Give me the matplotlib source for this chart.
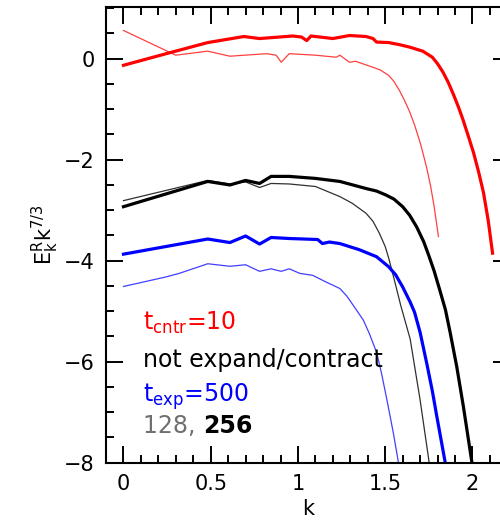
import numpy as np
import matplotlib
matplotlib.use('Agg')
import matplotlib.pyplot as plt
from matplotlib.ticker import MultipleLocator

plt.rcParams['font.family'] = 'DejaVu Sans'
plt.rcParams['mathtext.default'] = 'regular'
plt.rcParams['font.size'] = 15

# t_cntr = 10, 256 (thick red)
k_cntr_256 = [0, 0.245, 0.483, 0.69, 0.78, 0.97, 1.02, 1.05, 1.075, 1.2, 1.295, 1.39, 1.43,
              1.45, 1.52, 1.58, 1.64, 1.715, 1.77, 1.80, 1.83, 1.86, 1.89, 1.92, 1.945,
              1.975, 2.006, 2.035, 2.063, 2.09, 2.115]
e_cntr_256 = [-0.13, 0.10, 0.32, 0.44, 0.40, 0.45, 0.43, 0.36, 0.45, 0.40, 0.46, 0.44, 0.40,
              0.33, 0.32, 0.28, 0.23, 0.15, 0.03, -0.10, -0.26, -0.46, -0.70, -0.96, -1.20,
              -1.52, -1.86, -2.24, -2.65, -3.20, -3.85]
# t_cntr = 10, 128 (thin red)
k_cntr_128 = [0, 0.30, 0.483, 0.61, 0.82, 0.875, 0.904, 0.95, 1.10, 1.22, 1.24, 1.295, 1.33,
              1.43, 1.47, 1.52, 1.55, 1.58, 1.61, 1.64, 1.67, 1.70, 1.72, 1.739, 1.76, 1.78,
              1.805]
e_cntr_128 = [0.56, 0.07, 0.15, 0.05, 0.10, 0.07, -0.07, 0.10, 0.07, 0.03, 0.07, -0.07, -0.05,
              -0.17, -0.22, -0.33, -0.45, -0.62, -0.82, -1.05, -1.33, -1.66, -1.92, -2.18,
              -2.52, -2.92, -3.52]
# not expand/contract, 256 (thick black)
k_none_256 = [0, 0.483, 0.61, 0.70, 0.78, 0.846, 0.95, 1.10, 1.24, 1.39, 1.45, 1.505, 1.55,
              1.60, 1.64, 1.68, 1.72, 1.75, 1.78, 1.81, 1.845, 1.872, 1.91, 1.948, 1.997]
e_none_256 = [-2.93, -2.43, -2.50, -2.41, -2.47, -2.33, -2.33, -2.37, -2.43, -2.57, -2.62, -2.70,
              -2.78, -2.93, -3.10, -3.33, -3.62, -3.90, -4.20, -4.55, -4.97, -5.42, -6.10,
              -6.89, -8.0]
# not expand/contract, 128 (thin black)
k_none_128 = [0, 0.483, 0.61, 0.70, 0.78, 0.846, 0.95, 1.10, 1.24, 1.31, 1.39, 1.43, 1.467,
              1.50, 1.52, 1.55, 1.59, 1.643, 1.70, 1.752]
e_none_128 = [-2.81, -2.41, -2.48, -2.44, -2.55, -2.47, -2.48, -2.53, -2.73, -2.86, -3.06, -3.22,
              -3.46, -3.72, -3.95, -4.35, -4.90, -5.55, -6.76, -8.0]
# t_exp = 500, 256 (thick blue)
k_exp_256 = [0, 0.483, 0.61, 0.70, 0.78, 0.846, 0.95, 1.113, 1.14, 1.18, 1.24, 1.35, 1.45,
             1.52, 1.56, 1.60, 1.643, 1.668, 1.70, 1.739, 1.77, 1.796, 1.844]
e_exp_256 = [-3.87, -3.57, -3.64, -3.51, -3.67, -3.54, -3.56, -3.58, -3.66, -3.63, -3.66, -3.78,
             -3.92, -4.12, -4.28, -4.52, -4.82, -5.02, -5.42, -6.05, -6.58, -7.09, -8.0]
# t_exp = 500, 128 (thin blue)
k_exp_128 = [0, 0.245, 0.32, 0.483, 0.61, 0.70, 0.78, 0.846, 0.904, 0.95, 1.01, 1.085, 1.16,
             1.24, 1.28, 1.31, 1.34, 1.375, 1.41, 1.452, 1.48, 1.51, 1.547, 1.576]
e_exp_128 = [-4.51, -4.32, -4.25, -4.06, -4.11, -4.08, -4.21, -4.16, -4.21, -4.16, -4.25, -4.29,
             -4.42, -4.55, -4.70, -4.85, -5.00, -5.18, -5.45, -5.83, -6.25, -6.76, -7.42, -8.0]

fig = plt.figure(figsize=(5, 5.29), dpi=100)
ax = fig.add_axes([0.212, 0.1253, 0.808, 0.862])

thick = 2.3
thin = 0.9
ax.plot(k_cntr_128, e_cntr_128, color='#ff4040', lw=thin)
ax.plot(k_cntr_256, e_cntr_256, color='#ff0000', lw=thick)
ax.plot(k_none_128, e_none_128, color='#303030', lw=thin)
ax.plot(k_none_256, e_none_256, color='black', lw=thick)
ax.plot(k_exp_128, e_exp_128, color='#4040ff', lw=thin)
ax.plot(k_exp_256, e_exp_256, color='#0000ff', lw=thick)

ax.set_xlim(-0.1, 2.215)
ax.set_ylim(-8, 1.03)
ax.set_xticks([0, 0.5, 1, 1.5, 2])
ax.set_xticklabels(['0', '0.5', '1', '1.5', '2'])
ax.set_yticks([-8, -6, -4, -2, 0])
ax.xaxis.set_minor_locator(MultipleLocator(0.1))
ax.yaxis.set_minor_locator(MultipleLocator(0.5))
ax.tick_params(which='both', direction='in', top=True, right=True, width=1.4)
ax.tick_params(which='major', length=12, pad=8)
ax.tick_params(which='minor', length=6)
for s in ax.spines.values():
    s.set_linewidth(1.5)

ax.set_xlabel('k', labelpad=4)
ax.set_ylabel(r'$E^R_k k^{7/3}$', labelpad=2)

fs = 17
ax.text(0.113, -5.37, r'$t_{cntr}$=10', color='red', fontsize=fs)
ax.text(0.113, -6.11, 'not expand/contract', color='black', fontsize=fs)
ax.text(0.113, -6.80, r'$t_{exp}$=500', color='blue', fontsize=fs)
t = ax.text(0.113, -7.41, '128, ', color='#707070', fontsize=fs)
fig.canvas.draw()
bb = t.get_window_extent()
x1 = ax.transData.inverted().transform((bb.x1, bb.y0))[0]
ax.text(x1, -7.41, '256', color='black', fontsize=fs, fontweight='bold')

fig.savefig('out.png', dpi=100)
